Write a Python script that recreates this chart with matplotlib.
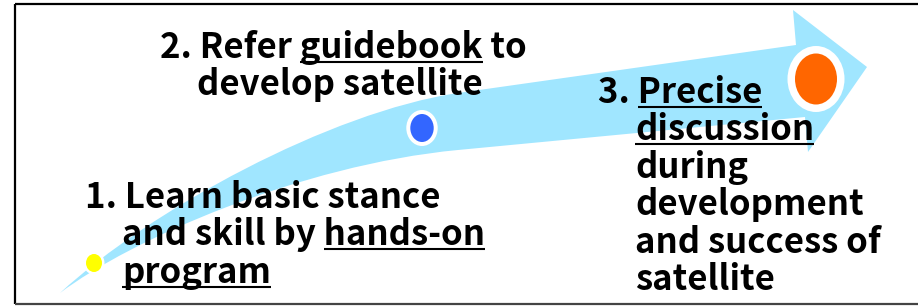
import matplotlib
matplotlib.use("Agg")
import matplotlib.pyplot as plt
from matplotlib.path import Path
from matplotlib.patches import PathPatch, Ellipse

# step texts, each line is (text, underlined word or None)
step1_lines = [("1. Learn basic stance", None),
               ("and skill by hands-on", "hands-on"),
               ("program", "program")]
step2_lines = [("2. Refer guidebook to", "guidebook"),
               ("develop satellite", None)]
step3_lines = [("3. Precise", "Precise"),
               ("discussion", "discussion"),
               ("during", None),
               ("development", None),
               ("and success of", None),
               ("satellite", None)]

# where each block starts: (x of first line, x of other lines, first baseline)
step1_pos = (85, 122, 208)
step2_pos = (160, 197, 58)
step3_pos = (598, 635, 103)
line_step = 37.5

# milestone dots: centre, radius x/y, white ring, colour
dots = [((94, 263), 8, 9, 2.5, "#FFFF00"),
        ((422, 128), 11.7, 14, 4, "#3366FF"),
        ((816, 79), 21, 25.5, 7.5, "#FF6600")]

W, H = 918, 306
fig = plt.figure(figsize=(W / 100, H / 100), dpi=100)
ax = fig.add_axes([0, 0, 1, 1])
ax.set_xlim(0, W)
ax.set_ylim(H, 0)
ax.axis("off")

# curved arrow
verts = [(60, 293), (150, 210), (330, 112), (458, 93),
         (796, 45), (793, 10), (867, 67), (808, 152), (805, 117),
         (458, 150), (300, 165), (130, 240), (60, 293)]
codes = [Path.MOVETO, Path.CURVE4, Path.CURVE4, Path.CURVE4,
         Path.LINETO, Path.LINETO, Path.LINETO, Path.LINETO, Path.LINETO,
         Path.LINETO, Path.CURVE4, Path.CURVE4, Path.CURVE4]
ax.add_patch(PathPatch(Path(verts, codes), facecolor="#A0E6FF",
                       edgecolor="none", zorder=1))

for (cx, cy), rx, ry, ring, col in dots:
    ax.add_patch(Ellipse((cx, cy), 2 * (rx + ring), 2 * (ry + ring),
                         facecolor="white", edgecolor="none", zorder=2))
    ax.add_patch(Ellipse((cx, cy), 2 * rx, 2 * ry,
                         facecolor=col, edgecolor="none", zorder=3))

font = dict(family=["Noto Sans CJK JP", "DejaVu Sans"], weight="bold",
            size=25, color="black")
renderer = fig.canvas.get_renderer()


def text_width(s):
    t = ax.text(0, 0, s, **font)
    w = t.get_window_extent(renderer).width
    t.remove()
    return w  # pixels == data units here


def draw_block(lines, pos):
    x0, x1, y = pos
    for i, (s, word) in enumerate(lines):
        x = x0 if i == 0 else x1
        ax.text(x, y, s, va="baseline", ha="left", zorder=4, **font)
        if word:
            k = s.index(word) + len(word)
            end = x + text_width(s[:k])
            start = end - text_width(word)
            ax.plot([start, end], [y + 3.5, y + 3.5], color="black",
                    lw=1.5, solid_capstyle="butt", zorder=4)
        y += line_step


draw_block(step1_lines, step1_pos)
draw_block(step2_lines, step2_pos)
draw_block(step3_lines, step3_pos)

# frame (right side runs off the picture)
ax.plot([15, W], [4, 4], color="black", lw=1.6, solid_capstyle="butt")
ax.plot([15, 15], [4, 304], color="black", lw=1.6, solid_capstyle="butt")
ax.plot([15, W], [304, 304], color="#444444", lw=1.6, solid_capstyle="butt")

fig.savefig("out.png", dpi=100)
